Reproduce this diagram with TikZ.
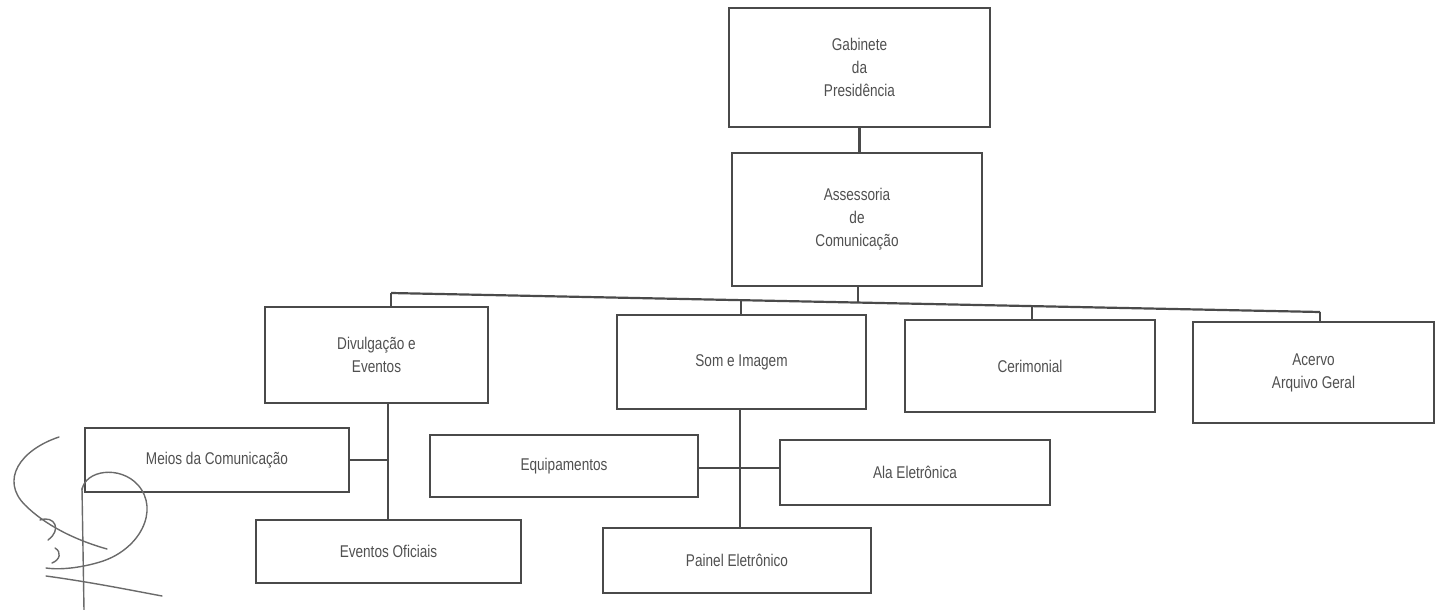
\documentclass[tikz,border=0pt]{standalone}
\usepackage{fontspec}
\setmainfont{Liberation Sans}[FakeStretch=0.8]
\begin{document}
\begin{tikzpicture}[x=1pt,y=-1pt,
  box/.style={draw=linegray, line width=2.2pt, rectangle, inner sep=0pt, align=center,
    text=textgray, font=\fontsize{17}{23}\selectfont},
  conn/.style={draw=linegray, line width=2.2pt},
  sig/.style={draw=siggray, line width=1.4pt, line cap=round}]
\definecolor{linegray}{HTML}{4A4A4A}
\definecolor{textgray}{HTML}{505050}
\definecolor{siggray}{HTML}{6A6A6A}
\useasboundingbox (0,0) rectangle (1437,610);

% top levels
\node[box, minimum width=261pt, minimum height=119pt] (gab) at (859.5,67.5) {Gabinete\\da\\Presidência};
\node[box, minimum width=250pt, minimum height=133pt] (ass) at (857,219.5) {Assessoria\\de\\Comunicação};

% second level
\node[box, minimum width=223pt, minimum height=96pt] (div) at (376.5,355) {Divulgação e\\Eventos};
\node[box, minimum width=249pt, minimum height=94pt] (som) at (741.5,362) {Som e Imagem};
\node[box, minimum width=250pt, minimum height=92pt] (cer) at (1030,366) {Cerimonial};
\node[box, minimum width=241pt, minimum height=101pt] (ace) at (1313.5,372.5) {Acervo\\Arquivo Geral};

% third level
\node[box, minimum width=264pt, minimum height=64pt] (mei) at (217,460) {Meios da Comunicação};
\node[box, minimum width=265pt, minimum height=63pt] (evo) at (388.5,551.5) {Eventos Oficiais};
\node[box, minimum width=268pt, minimum height=62pt] (equ) at (564,466) {Equipamentos};
\node[box, minimum width=270pt, minimum height=65pt] (ala) at (915,472.5) {Ala Eletrônica};
\node[box, minimum width=268pt, minimum height=65pt] (pai) at (737,560.5) {Painel Eletrônico};

% connectors
\draw[conn] (gab.south) -- (gab.south |- ass.north);
\coordinate (b1) at (391,293);
\coordinate (b2) at (741,300);
\coordinate (bm) at (858,302.5);
\coordinate (b3) at (1032,306);
\coordinate (b4) at (1320,312);
\draw[conn] (b1) -- (b4);
\draw[conn] (bm |- ass.south) -- (bm);
\draw[conn] (b1) -- (b1 |- div.north);
\draw[conn] (b2) -- (b2 |- som.north);
\draw[conn] (b3) -- (b3 |- cer.north);
\draw[conn] (b4) -- (b4 |- ace.north);

\coordinate (dv) at (388,403);
\draw[conn] (dv) -- (evo.north -| dv);
\draw[conn] (mei.east) -- (mei.east -| dv);

\coordinate (sv) at (740,409);
\draw[conn] (sv) -- (pai.north -| sv);
\coordinate (eh) at (0,468);
\draw[conn] (equ.east |- eh) -- (ala.west |- eh);

% signature scribble
\draw[sig] (59,437) .. controls (20,450) and (0,480) .. (25,505)
  .. controls (45,525) and (75,540) .. (107,549);
\draw[sig] (82,490) .. controls (85,470) and (120,465) .. (138,485)
  .. controls (160,510) and (140,550) .. (100,562)
  .. controls (80,568) and (60,570) .. (46,568);
\draw[sig] (46,576) .. controls (90,582) and (130,590) .. (162,596);
\draw[sig] (82,488) -- (84,610);
\draw[sig] (40,520) .. controls (55,515) and (62,530) .. (48,540);
\draw[sig] (55,548) .. controls (62,552) and (60,560) .. (52,563);
\end{tikzpicture}
\end{document}
